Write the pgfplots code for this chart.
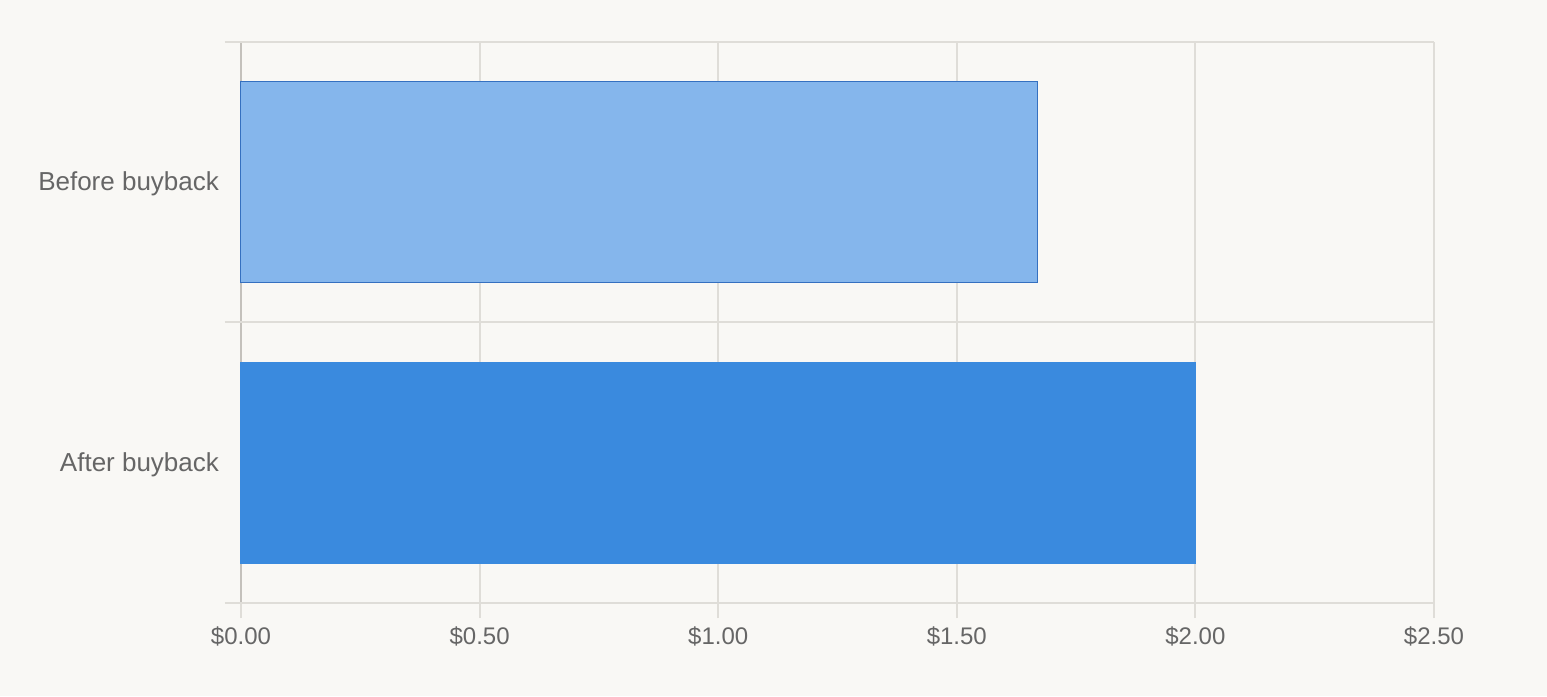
\documentclass[border=0pt]{standalone}
\usepackage{pgfplots}
\pgfplotsset{compat=1.18}
\usepackage{fontspec}
\setmainfont{Liberation Sans}
\definecolor{bgc}{HTML}{F9F8F5}
\definecolor{gridc}{HTML}{DFDDD8}
\definecolor{axc}{HTML}{C4C1BC}
\definecolor{txt}{HTML}{666666}
\definecolor{lightbar}{HTML}{85B6EC}
\definecolor{lightedge}{HTML}{3570C0}
\definecolor{darkbar}{HTML}{3A8ADE}
\begin{document}
\begin{tikzpicture}
\fill[bgc] (-120.5pt,-46.5pt) rectangle (653pt,301.5pt);
\begin{axis}[
    at={(0,0)}, anchor=south west,
    scale only axis,
    width=596.5pt, height=280.5pt,
    xmin=0, xmax=2.5,
    ymin=-0.5, ymax=1.5,
    axis x line*=bottom,
    axis y line*=left,
    axis line style={draw=axc, line width=1pt},
    xtick={0,0.5,1,1.5,2,2.5},
    xticklabel={\$\pgfmathprintnumber[fixed,fixed zerofill,precision=2,assume math mode=true]{\tick}},
    xmajorgrids,
    grid style={draw=gridc, line width=1pt},
    tick align=outside,
    major tick length=7.5pt,
    x tick style={draw=gridc, line width=1pt},
    ytick={0,1},
    yticklabels={After buyback, Before buyback},
    y tick style={draw=none},
    extra y ticks={-0.5,0.5,1.5},
    extra y tick labels={},
    extra y tick style={ymajorgrids=true, y tick style={draw=gridc, line width=1pt}, major tick length=8pt},
    yticklabel style={font=\fontsize{13}{15}\selectfont, text=txt, xshift=0pt, yshift=-1pt},
    xticklabel style={font=\fontsize{12}{14}\selectfont, text=txt, yshift=-1pt},
    xbar, bar width=100.5pt,
    bar shift=0pt,
    clip=false,
]
\addplot[fill=lightbar, draw=lightedge, line width=0.5pt] coordinates {(1.67,1)};
\addplot[fill=darkbar, draw=darkbar, line width=0.5pt] coordinates {(2.00,0)};
\end{axis}
\end{tikzpicture}
\end{document}
